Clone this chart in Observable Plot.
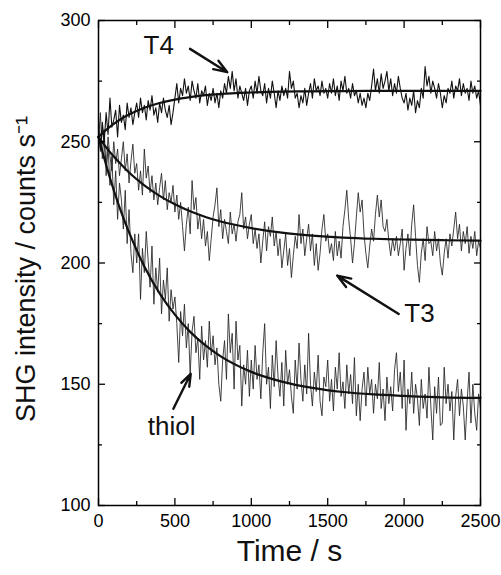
<!DOCTYPE html>
<html><head><meta charset="utf-8">
<script src="https://cdn.jsdelivr.net/npm/d3@7"></script>
<script src="https://cdn.jsdelivr.net/npm/@observablehq/plot@0.6"></script>
<style>body{margin:0;background:#fff}</style>
</head><body><div id="chart"></div>
<script>
// Sampling grid of the measured traces (s)
const traceStart = 0, traceEnd = 2500, traceStep = 12.5;

const t4Values = [
  255,247,258,250,262,253,268,256,259,263,252,265,258,261,255,266,260,264,257,262,
  266,260,268,262,265,259,267,263,269,261,264,258,266,262,268,263,260,265,257,262,
  268,274,266,272,269,276,270,273,267,275,271,268,274,266,271,269,273,265,270,267,
  272,266,270,264,271,268,274,270,277,272,279,271,276,268,273,270,267,272,265,271,
  273,268,275,270,277,271,269,274,266,272,268,275,270,264,271,267,273,269,272,268,
  279,272,275,268,270,264,269,266,272,265,270,274,268,276,271,273,269,275,270,272,
  268,274,270,276,269,273,267,275,271,277,270,272,268,274,269,271,266,270,265,268,
  264,270,267,273,280,271,276,270,278,272,275,279,271,276,269,274,270,277,272,268,
  266,270,263,268,265,271,262,267,264,272,268,281,273,277,270,275,272,268,274,270,
  264,269,266,272,270,275,268,273,271,276,269,274,270,272,267,275,270,273,268,271,
  265
];
const t3Values = [
  258,246,255,249,240,252,244,238,250,241,247,236,243,250,238,245,233,242,249,237,
  241,230,238,228,247,235,240,229,236,226,233,224,231,237,226,234,222,229,225,232,
  221,228,218,225,215,205,216,223,212,234,222,227,214,220,210,218,207,213,201,210,
  219,224,231,215,222,210,218,213,208,221,212,216,209,217,220,229,214,219,210,216,
  220,208,214,206,212,200,209,217,205,215,211,219,207,213,203,210,198,205,212,199,
  206,194,203,211,206,220,208,214,203,210,216,205,212,199,208,197,204,214,220,209,
  212,204,208,201,213,203,209,202,215,222,230,218,210,200,208,219,229,221,226,212,
  204,198,207,214,209,220,228,219,226,215,213,218,209,203,210,205,211,203,208,214,
  197,206,212,203,216,224,211,199,192,204,210,201,215,208,209,203,213,205,210,200,
  195,204,210,202,212,207,214,221,210,216,205,213,208,215,204,211,206,213,203,209,
  206
];
const thiolValues = [
  250,262,243,255,236,248,232,244,224,238,218,233,226,214,230,208,222,204,196,212,
  200,212,185,206,196,213,201,190,207,183,198,188,202,179,193,185,198,176,189,181,
  186,175,159,180,170,183,165,175,154,172,178,163,169,152,174,160,168,157,176,162,
  170,158,165,150,143,160,168,152,179,163,171,148,176,160,166,141,158,150,164,145,
  160,148,166,152,158,144,163,175,150,157,140,162,149,168,153,145,159,141,164,150,
  156,145,138,160,148,167,152,143,158,146,171,150,141,155,147,162,143,137,153,149,
  160,143,152,139,157,148,163,145,151,140,158,146,154,142,161,137,150,135,148,155,
  141,157,146,152,138,150,144,159,140,148,135,153,142,149,139,156,163,147,155,140,
  160,131,148,142,155,138,150,144,133,152,140,146,136,157,141,127,149,138,153,133,
  134,157,142,150,139,147,127,145,152,137,148,141,127,143,155,134,150,138,131,146,
  140
];

// Exponential fits, sampled from the figure
const fitTimes  = [0,50,100,150,200,300,400,500,600,700,800,1000,1200,1400,1600,1800,2000,2250,2500];
const t4Fit     = [252,254.9,257.4,259.5,261.2,264.0,266.0,267.4,268.4,269.2,269.7,270.3,270.7,270.8,270.9,271,271,271,271];
const t3Fit     = [252,247.7,243.9,240.5,237.3,232.0,227.7,224.2,221.3,219.0,217.1,214.4,212.5,211.3,210.5,210.0,209.7,209.4,209.2];
const thiolFit  = [252,240.4,230.0,220.8,212.6,198.6,187.5,178.7,171.6,166.0,161.5,155.1,151.1,148.5,146.8,145.8,145.2,144.6,144.4];

// Axis ticks
const xTicks = [0,500,1000,1500,2000,2500];
const xMinor = [250,750,1250,1750,2250];
const yTicks = [100,150,200,250,300];
const yMinor = [125,175,225,275];

// Annotations (data coordinates)
const labelText = ["T4","T3","thiol"];
const labelX    = [394,2101,479];
const labelY    = [289.8,178.9,132.7];
const arrowX1   = [599,1965,490];
const arrowY1   = [288.3,179,139.9];
const arrowX2   = [843,1562,603.5];
const arrowY2   = [278.7,194.8,154.3];

const times = d3.range(traceStart, traceEnd + traceStep / 2, traceStep);
const toRows = (vals) => vals.map((v, i) => ({t: times[i], v}));
const fitRows = (vals) => vals.map((v, i) => ({t: fitTimes[i], v}));
const labels = labelText.map((s, i) => ({s, x: labelX[i], y: labelY[i]}));
const arrows = labelText.map((s, i) => ({x1: arrowX1[i], y1: arrowY1[i], x2: arrowX2[i], y2: arrowY2[i]}));

const font = "'Liberation Sans', Arial, Helvetica, sans-serif";
const plain = (d) => String(d);

const chart = Plot.plot({
  width: 501,
  height: 575,
  marginLeft: 98,
  marginRight: 21,
  marginTop: 20,
  marginBottom: 70,
  x: {domain: [0, 2500]},
  y: {domain: [100, 300]},
  style: {fontFamily: font, fontSize: "18px", color: "#000", background: "#fff", overflow: "visible"},
  marks: [
    Plot.line(toRows(t3Values), {x: "t", y: "v", stroke: "#222", strokeWidth: 0.85}),
    Plot.line(toRows(thiolValues), {x: "t", y: "v", stroke: "#222", strokeWidth: 0.85}),
    Plot.line(toRows(t4Values), {x: "t", y: "v", stroke: "#111", strokeWidth: 1.1}),
    Plot.line(fitRows(t4Fit), {x: "t", y: "v", stroke: "#111", strokeWidth: 2.2, curve: "monotone-x"}),
    Plot.line(fitRows(t3Fit), {x: "t", y: "v", stroke: "#111", strokeWidth: 2.2, curve: "monotone-x"}),
    Plot.line(fitRows(thiolFit), {x: "t", y: "v", stroke: "#111", strokeWidth: 2.2, curve: "monotone-x"}),
    Plot.frame({stroke: "#000", strokeWidth: 1.5}),
    Plot.axisX(xTicks, {anchor: "bottom", tickSize: -7, text: null, label: null, strokeWidth: 1.3}),
    Plot.axisX(xMinor, {anchor: "bottom", tickSize: -4, text: null, label: null, strokeWidth: 1.3}),
    Plot.axisX(xTicks, {anchor: "top", tickSize: -7, text: null, label: null, strokeWidth: 1.3}),
    Plot.axisX(xMinor, {anchor: "top", tickSize: -4, text: null, label: null, strokeWidth: 1.3}),
    Plot.axisX(xTicks, {anchor: "bottom", tickSize: 0, tickPadding: 9, label: null, fontSize: 18, tickFormat: plain}),
    Plot.axisY(yTicks, {anchor: "left", tickSize: -7, text: null, label: null, strokeWidth: 1.3}),
    Plot.axisY(yMinor, {anchor: "left", tickSize: -4, text: null, label: null, strokeWidth: 1.3}),
    Plot.axisY(yTicks, {anchor: "right", tickSize: -7, text: null, label: null, strokeWidth: 1.3}),
    Plot.axisY(yMinor, {anchor: "right", tickSize: -4, text: null, label: null, strokeWidth: 1.3}),
    Plot.axisY(yTicks, {anchor: "left", tickSize: 0, tickPadding: 8, label: null, fontSize: 18, tickFormat: plain}),
    Plot.arrow(arrows, {x1: "x1", y1: "y1", x2: "x2", y2: "y2", stroke: "#111", strokeWidth: 2.4, headLength: 9, headAngle: 40}),
    Plot.text(labels, {x: "x", y: "y", text: "s", fontSize: 26, fill: "#111"}),
    Plot.text(["Time / s"], {frameAnchor: "bottom", dy: 55, fontSize: 30, fill: "#111"}),
    Plot.text(["SHG intensity / counts s\u207B\u00B9"], {frameAnchor: "left", textAnchor: "middle", dx: -72, dy: 6, rotate: -90, fontSize: 27, fill: "#111"})
  ]
});
document.getElementById("chart").appendChild(chart);
</script>
</body></html>
